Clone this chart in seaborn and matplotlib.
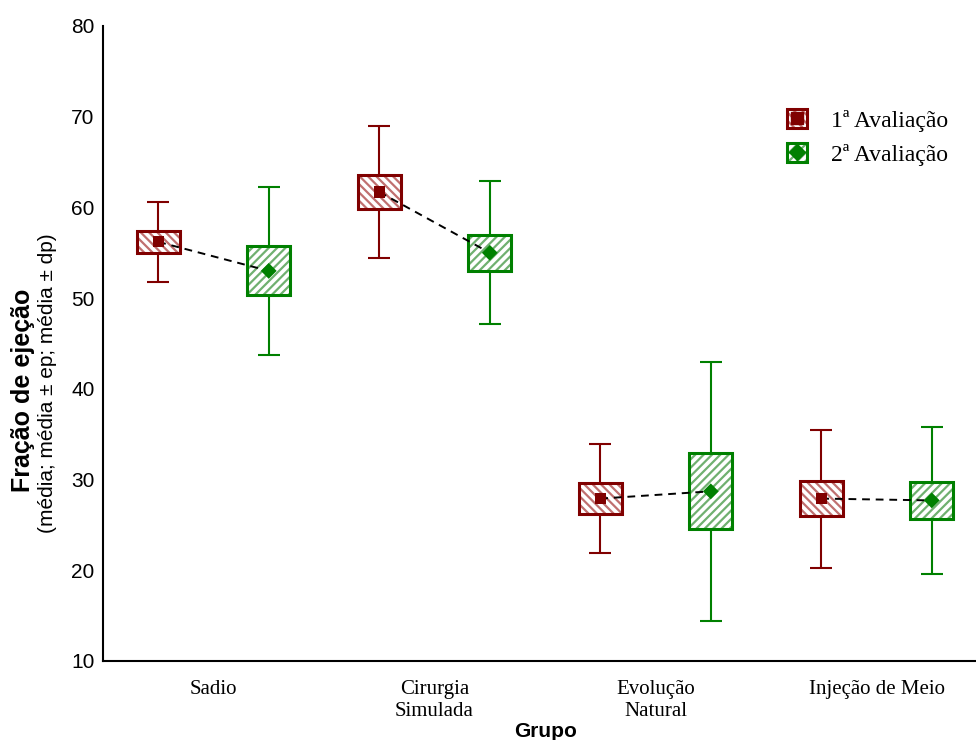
import numpy as np
import pandas as pd
import matplotlib
matplotlib.use("Agg")
import matplotlib.pyplot as plt
import seaborn as sns
from matplotlib.patches import Patch
from matplotlib.lines import Line2D

grupos = ["Sadio", "Cirurgia\nSimulada", "Evolução\nNatural", "Injeção de Meio"]
avaliacoes = ["1ª Avaliação", "2ª Avaliação"]

# media, erro padrao, desvio padrao
media_1 = [56.2, 61.7, 27.9, 27.9]
ep_1 = [1.2, 1.9, 1.7, 1.9]
dp_1 = [4.4, 7.3, 6.0, 7.6]

media_2 = [53.0, 55.0, 28.7, 27.7]
ep_2 = [2.7, 2.0, 4.2, 2.0]
dp_2 = [9.3, 7.9, 14.3, 8.1]

cores = ["#800000", "#008000"]
hatch_cores = ["#c07070", "#70b070"]
hatches = ["\\\\\\\\", "////"]
marcadores = ["s", "D"]
offset = 0.25

rows = []
for i, g in enumerate(grupos):
    for j, (m, e, d) in enumerate([(media_1[i], ep_1[i], dp_1[i]),
                                    (media_2[i], ep_2[i], dp_2[i])]):
        rows.append(dict(grupo=g, gi=i, aval=avaliacoes[j], media=m, ep=e, dp=d,
                         x=i + (offset if j else -offset)))
df = pd.DataFrame(rows)

sns.set_style("white")
plt.rcParams["hatch.linewidth"] = 1.6
plt.rcParams["text.color"] = "black"
plt.rcParams["xtick.color"] = "black"
plt.rcParams["ytick.color"] = "black"

fig = plt.figure(figsize=(9.76, 7.4), dpi=100)
ax = fig.add_axes([0.1055, 0.1068, 0.8945, 0.8581])

for j, aval in enumerate(avaliacoes):
    sub = df[df["aval"] == aval]
    # bigodes (media +- dp)
    ax.errorbar(sub["x"], sub["media"], yerr=sub["dp"], fmt="none",
                ecolor=cores[j], elinewidth=1.5, capsize=8, capthick=1.5, zorder=1)
    # caixas (media +- ep): hachura e depois contorno
    ax.bar(sub["x"], 2 * sub["ep"], bottom=sub["media"] - sub["ep"], width=0.195,
           color="white", edgecolor=hatch_cores[j], hatch=hatches[j], linewidth=0, zorder=2)
    ax.bar(sub["x"], 2 * sub["ep"], bottom=sub["media"] - sub["ep"], width=0.195,
           color="none", edgecolor=cores[j], linewidth=2.2, zorder=3)

sns.lineplot(data=df, x="x", y="media", units="gi", estimator=None, color="black",
             linestyle=(0, (4, 3)), linewidth=1.4, ax=ax, zorder=4, legend=False)
sns.scatterplot(data=df, x="x", y="media", hue="aval", style="aval",
                palette=cores, markers=marcadores, s=65, linewidth=0,
                ax=ax, zorder=5, legend=False)

ax.set_xlim(-0.5, 3.45)
ax.set_ylim(10, 80)
ax.set_yticks(range(10, 81, 10))
ax.set_xticks(range(len(grupos)))
ax.set_xticklabels(grupos, family="Liberation Serif", fontsize=15)
for lab in ax.get_yticklabels():
    lab.set_family("Liberation Sans")
    lab.set_fontsize(15)
ax.tick_params(axis="both", direction="in", length=4, width=1.2, color="black")
ax.tick_params(axis="x", pad=14)
ax.tick_params(axis="y", pad=6)
for s in ["top", "right"]:
    ax.spines[s].set_visible(False)
for s in ["left", "bottom"]:
    ax.spines[s].set_color("black")
    ax.spines[s].set_linewidth(1.5)
ax.set_xlabel("")
ax.set_ylabel("")

fig.text(0.5585, 0.012, "Grupo", family="Liberation Sans", fontweight="bold",
         fontsize=15, ha="center", va="center")
fig.text(0.0236, 0.473, "Fração de ejeção", family="Liberation Sans", fontweight="bold",
         fontsize=18, rotation=90, ha="center", va="center")
fig.text(0.049, 0.482, "(média; média ± ep; média ± dp)", family="Liberation Sans",
         fontsize=15, rotation=90, ha="center", va="center")

handles = []
for j in range(2):
    p = Patch(facecolor="white", edgecolor=hatch_cores[j], hatch=hatches[j], linewidth=0)
    p2 = Patch(facecolor="none", edgecolor=cores[j], linewidth=2.2)
    m = Line2D([], [], marker=marcadores[j], color=cores[j], linestyle="none", markersize=8)
    handles.append((p, p2, m))
leg = fig.legend(handles, avaliacoes, loc="upper left",
                 bbox_to_anchor=(787 / 976, 1 - 109 / 740),
                 frameon=False, prop={"family": "Liberation Serif", "size": 17},
                 borderpad=0, borderaxespad=0,
                 handlelength=0.85, handleheight=0.85, handletextpad=1.0,
                 labelspacing=0.5)

fig.savefig("out.png", dpi=100)
